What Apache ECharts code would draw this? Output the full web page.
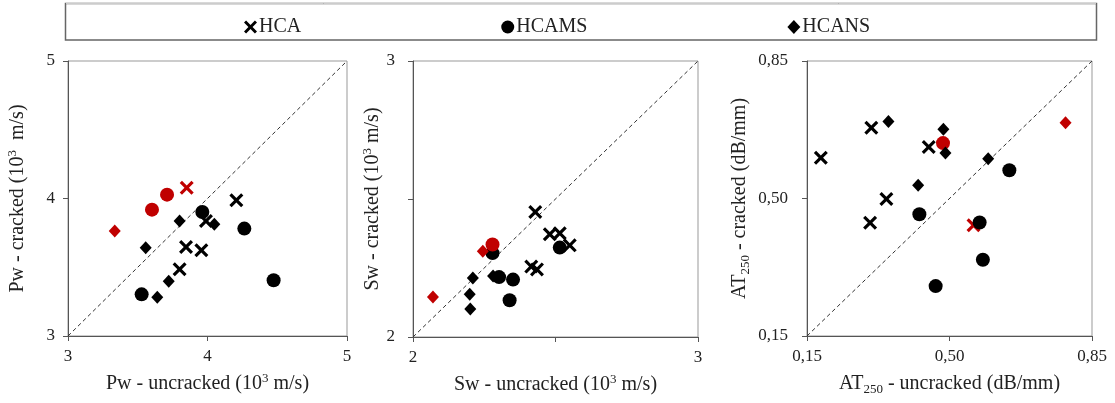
<!DOCTYPE html>
<html>
<head>
<meta charset="utf-8">
<script src="https://cdn.jsdelivr.net/npm/echarts@6/dist/echarts.min.js"></script>
<style>
  html, body { margin: 0; padding: 0; background: #fff; }
  #con { width: 1115px; height: 403px; }
</style>
</head>
<body>
<div id="con"></div>
<script>
// groups shown in the legend
var groups = ['HCA', 'HCAMS', 'HCANS'];

// Pw panel (10^3 m/s): [uncracked, cracked]
var pwRange = [3, 5];
var pwHCA = [[4.207, 3.987], [3.989, 3.836], [3.846, 3.647], [3.956, 3.623], [3.800, 3.485]];
var pwHCARed = [[3.851, 4.079]];
var pwHCAMS = [[3.963, 3.902], [4.264, 3.781], [4.474, 3.405], [3.528, 3.303]];
var pwHCAMSRed = [[3.602, 3.919], [3.710, 4.028]];
var pwHCANS = [[3.800, 3.836], [4.049, 3.812], [3.557, 3.642], [3.722, 3.398], [3.640, 3.281]];
var pwHCANSRed = [[3.335, 3.764]];

// Sw panel (10^3 m/s)
var swRange = [2, 3];
var swHCA = [[2.429, 2.453], [2.480, 2.372], [2.515, 2.376], [2.550, 2.332], [2.415, 2.255], [2.435, 2.245]];
var swHCARed = [];
var swHCAMS = [[2.279, 2.304], [2.302, 2.217], [2.351, 2.208], [2.339, 2.133], [2.515, 2.324]];
var swHCAMSRed = [[2.279, 2.335]];
var swHCANS = [[2.210, 2.214], [2.199, 2.155], [2.201, 2.101], [2.281, 2.221]];
var swHCANSRed = [[2.245, 2.311], [2.070, 2.145]];

// AT250 panel (dB/mm)
var atRange = [0.15, 0.85];
var atTicks = [0.15, 0.50, 0.85];
var atHCA = [[0.184, 0.604], [0.308, 0.680], [0.449, 0.631], [0.345, 0.499], [0.305, 0.438]];
var atHCARed = [[0.559, 0.432]];
var atHCAMS = [[0.647, 0.572], [0.426, 0.460], [0.574, 0.439], [0.582, 0.344], [0.466, 0.277]];
var atHCAMSRed = [[0.484, 0.641]];
var atHCANS = [[0.350, 0.696], [0.485, 0.676], [0.490, 0.616], [0.595, 0.601], [0.423, 0.534]];
var atHCANSRed = [[0.785, 0.693]];

var FONT = 'Liberation Serif';
var RED = '#C00000';
var CROSS = 'path://M1.6,0 L5,3.4 L8.4,0 L10,1.6 L6.6,5 L10,8.4 L8.4,10 L5,6.6 L1.6,10 L0,8.4 L3.4,5 L0,1.6 Z';
var symbols = { HCA: CROSS, HCAMS: 'circle', HCANS: 'diamond' };
var sizes = { HCA: 14, HCAMS: 14, HCANS: [12, 13] };

var rich = {
    a: { fontFamily: FONT, fontSize: 20, color: '#222', lineHeight: 24 },
    sup: { fontFamily: FONT, fontSize: 13, color: '#222', verticalAlign: 'top', lineHeight: 24 },
    sub: { fontFamily: FONT, fontSize: 13, color: '#222', verticalAlign: 'bottom', lineHeight: 24 }
};

var grids = [
    { left: 68, top: 61, width: 279, height: 275, show: true, borderColor: '#999', borderWidth: 1 },
    { left: 413, top: 61, width: 285, height: 276, show: true, borderColor: '#999', borderWidth: 1 },
    { left: 807, top: 61, width: 285, height: 275, show: true, borderColor: '#999', borderWidth: 1 }
];

function axis(idx, range, name, gap, margin, extra, isY) {
    var a = {
        type: 'value',
        gridIndex: idx,
        min: range[0],
        max: range[1],
        name: name,
        nameLocation: 'middle',
        nameGap: gap,
        nameRotate: isY ? 90 : 0,
        nameTextStyle: { fontFamily: FONT, fontSize: 20, color: '#222', rich: rich },
        axisLine: { show: true, lineStyle: { color: '#555', width: 1 } },
        axisTick: { show: true, inside: false, length: 5, lineStyle: { color: '#555' } },
        axisLabel: { margin: margin, fontFamily: FONT, fontSize: 17, color: '#222' },
        splitLine: { show: false }
    };
    for (var k in extra) {
        if (k === 'axisLabel' || k === 'axisTick') {
            for (var j in extra[k]) a[k][j] = extra[k][j];
        } else {
            a[k] = extra[k];
        }
    }
    return a;
}

var intFmt = function(v) { return Math.abs(v - Math.round(v)) < 1e-9 ? String(Math.round(v)) : ''; };
var commaFmt = function(v) { return v.toFixed(2).replace('.', ','); };

var xAxes = [
    axis(0, pwRange, '{a|Pw - uncracked (10}{sup|3}{a| m/s)}', 36, 12, { interval: 1 }, false),
    axis(1, swRange, '{a|Sw - uncracked (10}{sup|3}{a| m/s)}', 36, 12,
        { interval: 0.5, axisLabel: { formatter: intFmt } }, false),
    axis(2, atRange, '{a|AT}{sub|250}{a| - uncracked (dB/mm)}', 36, 12,
        { axisLabel: { customValues: atTicks, formatter: commaFmt }, axisTick: { customValues: atTicks } }, false)
];
var yAxes = [
    axis(0, pwRange, '{a|Pw - cracked (10}{sup|3}{a|  m/s)}', 38, 13, { interval: 1 }, true),
    axis(1, swRange, '{a|Sw - cracked (10}{sup|3}{a| m/s)}', 23, 18,
        { interval: 0.5, axisLabel: { formatter: intFmt } }, true),
    axis(2, atRange, '{a|AT}{sub|250}{a| - cracked (dB/mm)}', 55, 19,
        { axisLabel: { customValues: atTicks, formatter: commaFmt }, axisTick: { customValues: atTicks } }, true)
];

var panels = [
    { range: pwRange, data: { HCA: [pwHCA, pwHCARed], HCAMS: [pwHCAMS, pwHCAMSRed], HCANS: [pwHCANS, pwHCANSRed] } },
    { range: swRange, data: { HCA: [swHCA, swHCARed], HCAMS: [swHCAMS, swHCAMSRed], HCANS: [swHCANS, swHCANSRed] } },
    { range: atRange, data: { HCA: [atHCA, atHCARed], HCAMS: [atHCAMS, atHCAMSRed], HCANS: [atHCANS, atHCANSRed] } }
];

var series = [];
panels.forEach(function(p, i) {
    series.push({
        type: 'line',
        xAxisIndex: i,
        yAxisIndex: i,
        data: [[p.range[0], p.range[0]], [p.range[1], p.range[1]]],
        showSymbol: false,
        silent: true,
        z: 1,
        lineStyle: { color: '#333', width: 1, type: [4, 3] }
    });
    groups.forEach(function(g) {
        [0, 1].forEach(function(r) {
            series.push({
                name: g,
                type: 'scatter',
                xAxisIndex: i,
                yAxisIndex: i,
                data: p.data[g][r],
                symbol: symbols[g],
                symbolSize: sizes[g],
                symbolKeepAspect: true,
                z: 3,
                itemStyle: { color: r ? RED : '#000', opacity: 1 }
            });
        });
    });
});

var myChart = echarts.init(document.getElementById('con'));
var option = {
    animation: false,
    backgroundColor: '#fff',
    graphic: [
        { type: 'rect', shape: { x: 65.5, y: 3.5, width: 1031, height: 36.5 }, style: { fill: 'none', stroke: '#666', lineWidth: 1.5 } },
        { type: 'line', shape: { x1: 66, y1: 3.5, x2: 1096, y2: 3.5 }, style: { stroke: '#ccc', lineWidth: 1 } }
    ],
    legend: {
        data: [
            { name: 'HCA', icon: CROSS },
            { name: 'HCAMS', icon: 'circle' },
            { name: 'HCANS', icon: 'diamond' }
        ],
        left: 239,
        top: 12,
        itemGap: 200,
        itemWidth: 13,
        itemHeight: 14,
        selectedMode: false,
        textStyle: { fontFamily: FONT, fontSize: 20, color: '#222', padding: [0, 0, 0, -3] }
    },
    grid: grids,
    xAxis: xAxes,
    yAxis: yAxes,
    series: series
};
myChart.setOption(option);
</script>
</body>
</html>
